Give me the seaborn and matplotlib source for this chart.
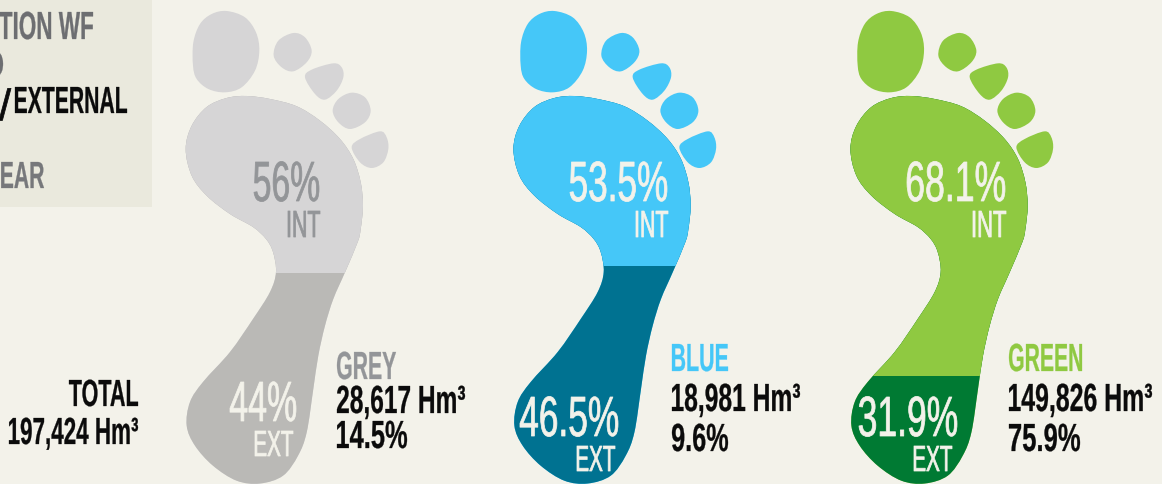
import numpy as np
import pandas as pd
import seaborn as sns
import matplotlib.pyplot as plt
from matplotlib.font_manager import FontProperties
from matplotlib.patches import PathPatch, Rectangle
from matplotlib.path import Path
from matplotlib.patheffects import AbstractPathEffect
from matplotlib.textpath import TextPath
from matplotlib.transforms import Affine2D

# data
categories = ['GREY', 'BLUE', 'GREEN']
int_share = [56, 53.5, 68.1]
ext_share = [44, 46.5, 31.9]
volume_hm3 = [28617, 18981, 149826]
total_share = [14.5, 9.6, 75.9]
total_volume = 197424
split_level = [274, 267, 377]

# colours and layout
BG = '#f3f2ea'
PANEL = '#eae9dd'
BLACK = '#0b0b0b'
light_colors = ['#d6d5d6', '#45c7f8', '#8fc941']
dark_colors = ['#bab9b6', '#007291', '#007a33']
title_colors = ['#939598', '#45c7f8', '#8fc941']
int_text_colors = ['#939598', BG, BG]
foot_offset = [0, 327.7, 664.7]
FAMILY = ['Liberation Sans Narrow', 'Liberation Sans']

# foot outline of the grey foot, in pixels
sole = [
    (246.7, 97), (270, 100), (296.7, 107.3), (320, 121.7), (340, 140), (353.3, 160),
    (360.7, 183.3), (363, 206.7), (360.7, 230), (357.7, 243), (345, 273.3), (333.3, 300),
    (325, 326.7), (318.3, 356.7), (313.3, 390), (306.7, 433.3), (298, 456.7), (283, 476.7),
    (260, 484.5), (236.7, 481.7), (213, 466.7), (195, 446.7), (186.7, 426.7), (190, 403),
    (203, 383), (230, 353), (253, 320), (270, 293), (276, 273), (273, 253), (266, 240),
    (253, 228), (230, 215), (206.7, 196.7), (191.7, 176.7), (185.7, 150), (191.7, 126.7),
    (206.7, 108), (226.7, 99),
]
# toes, in coordinates of a 3x crop starting at x=170
toes = [
    [(170, 36), (225, 55), (258, 100), (268, 155), (255, 215), (215, 265), (165, 280),
     (115, 270), (80, 240), (69, 200), (70, 130), (90, 75), (125, 45)],
    [(370, 102), (405, 115), (425, 155), (410, 190), (370, 217), (335, 205), (311, 170), (325, 125)],
    [(405, 235), (425, 212), (490, 193), (515, 205), (520, 235), (500, 275), (465, 302), (435, 285)],
    [(545, 281), (585, 295), (602, 335), (585, 370), (540, 390), (505, 370), (488, 335), (505, 300)],
    [(545, 445), (570, 420), (630, 397), (650, 415), (655, 450), (640, 490), (605, 507), (570, 490)],
]


class Squeeze(AbstractPathEffect):
    """Narrow the glyphs horizontally and thicken them, the reference font is very condensed."""

    def __init__(self, sx, stroke):
        self.sx = sx
        self.stroke = stroke

    def draw_path(self, renderer, gc, tpath, affine, rgbFace=None):
        m = affine.get_matrix().copy()
        m[0, 0] *= self.sx
        gc0 = renderer.new_gc()
        gc0.copy_properties(gc)
        gc0.set_foreground(rgbFace)
        gc0.set_linewidth(self.stroke)
        gc0.set_joinstyle('round')
        renderer.draw_path(gc0, tpath, Affine2D(m), rgbFace)
        gc0.restore()


def smooth_path(points, dx=0.0):
    """Closed Catmull-Rom curve through the points as a bezier path."""
    pts = np.array(points, dtype=float) + [dx, 0]
    n = len(pts)
    verts = [pts[0]]
    codes = [Path.MOVETO]
    for i in range(n):
        p0, p1, p2, p3 = pts[i - 1], pts[i], pts[(i + 1) % n], pts[(i + 2) % n]
        verts += [p1 + (p2 - p0) / 6, p2 - (p3 - p1) / 6, p2]
        codes += [Path.CURVE4] * 3
    return Path(verts, codes)


def label(ax, s, left, right, baseline, cap, color, weight='normal'):
    """Place text so that its ink runs from left to right at the given cap height."""
    size = cap / 0.688 * 72 / 100
    fp = FontProperties(family=FAMILY, weight=weight, size=size)
    ext = TextPath((0, 0), s, size=size, prop=fp).get_extents()
    sx = (right - left) / (ext.width * 100 / 72)
    x = left - ext.x0 * 100 / 72 * sx
    t = ax.text(x, baseline, s, fontproperties=fp, color=color, ha='left', va='baseline', zorder=5)
    t.set_path_effects([Squeeze(sx, 0.55 if weight == 'normal' else 0.2)])
    return t


sns.set_theme(style='white')
fig = plt.figure(figsize=(11.62, 4.85), dpi=100, facecolor=BG)
ax = fig.add_axes([0, 0, 1, 1])
ax.set_facecolor(BG)

for i in range(3):
    dx = foot_offset[i]
    foot = PathPatch(smooth_path(sole, dx), facecolor=light_colors[i], edgecolor='none')
    ax.add_patch(foot)
    for toe in toes:
        toe_px = np.array(toe) / 3 + [170, 0]
        ax.add_patch(PathPatch(smooth_path(toe_px, dx), facecolor=light_colors[i], edgecolor='none'))

    # dark (external) part below the split, light part above it, both cut to the foot
    center = 275 + dx
    parts = pd.DataFrame({'x': [center], 'whole': [485], 'upper': [split_level[i]]})
    before = len(ax.patches)
    sns.barplot(data=parts, x='x', y='whole', native_scale=True, width=300, color=dark_colors[i],
                saturation=1, linewidth=0, ax=ax)
    sns.barplot(data=parts, x='x', y='upper', native_scale=True, width=300, color=light_colors[i],
                saturation=1, linewidth=0, ax=ax)
    for bar in ax.patches[before:]:
        bar.set_clip_path(foot)

ax.add_patch(Rectangle((0, 0), 152, 208, facecolor=PANEL, edgecolor='none'))

ax.set_xlim(0, 1162)
ax.set_ylim(485, 0)
ax.axis('off')

# left panel, cut by the edge of the picture
label(ax, 'TION WF', -1, 93, 40, 27, '#6d6e71', 'bold')
label(ax, 'D', -12, 3, 78, 26, '#6d6e71', 'bold')
label(ax, '/', -1, 11, 121, 30, BLACK)
label(ax, 'EXTERNAL', 15, 127, 114, 26, BLACK, 'bold')
label(ax, 'YEAR', -14, 44, 189, 26, '#77787b', 'bold')

# text inside the feet: left, right for the share and its INT/EXT tag
int_x = [(254, 319), (570, 667), (907, 1005)]
int_tag_x = [(288, 320), (636, 668), (973, 1006)]
ext_x = [(230, 296), (520, 618), (859, 957)]
ext_tag_x = [(255, 293), (577, 615), (914, 952)]
ext_base = [(422, 457), (437, 472), (437, 472)]
ext_color = [BG, BG, BG]

# text beside the feet: left and right ends, then baselines
title_x = [(337, 396), (672, 728), (1009, 1082)]
title_base = [380, 372, 372]
vol_right = [465, 800, 1152]
vol_base = [414, 412, 412]
pct_right = [407, 728, 1080]
pct_base = [449, 452, 452]

for i, name in enumerate(categories):
    label(ax, f'{int_share[i]:g}%', int_x[i][0], int_x[i][1], 202, 39, int_text_colors[i])
    label(ax, 'INT', int_tag_x[i][0], int_tag_x[i][1], 238, 26, int_text_colors[i])
    label(ax, f'{ext_share[i]:g}%', ext_x[i][0], ext_x[i][1], ext_base[i][0], 39, ext_color[i])
    label(ax, 'EXT', ext_tag_x[i][0], ext_tag_x[i][1], ext_base[i][1], 25, ext_color[i])
    left = title_x[i][0]
    label(ax, name, left, title_x[i][1], title_base[i], 27, title_colors[i], 'bold')
    label(ax, f'{volume_hm3[i]:,} Hm\u00b3', left, vol_right[i], vol_base[i], 27, BLACK, 'bold')
    label(ax, f'{total_share[i]:g}%', left, pct_right[i], pct_base[i], 27, BLACK, 'bold')

label(ax, 'TOTAL', 69, 138, 407, 26, BLACK, 'bold')
label(ax, f'{total_volume:,} Hm\u00b3', 9, 138, 445, 26, BLACK, 'bold')

fig.savefig('out.png', dpi=100, facecolor=BG)
